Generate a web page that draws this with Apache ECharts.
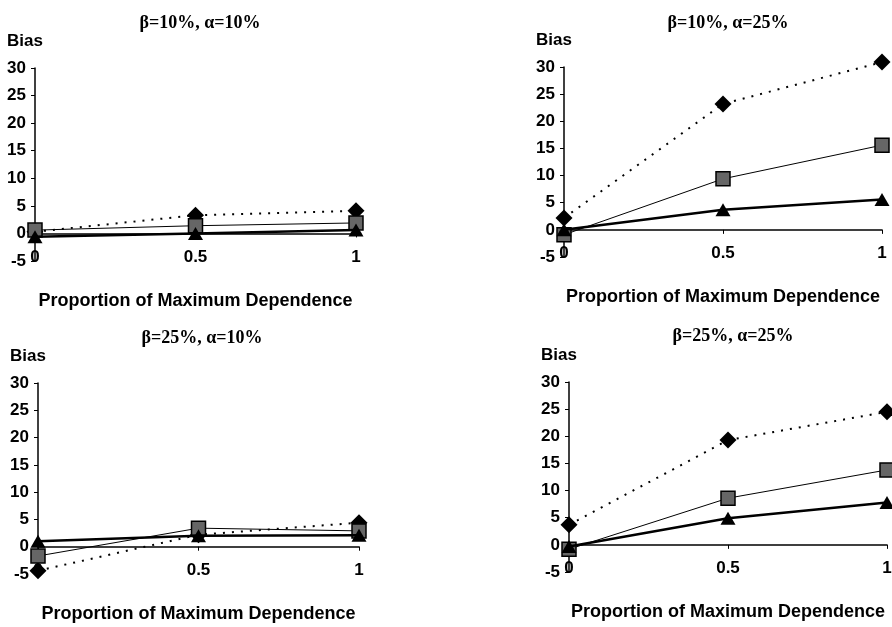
<!DOCTYPE html>
<html><head><meta charset="utf-8">
<script src="https://cdn.jsdelivr.net/npm/echarts@6/dist/echarts.min.js"></script>
<style>html,body{margin:0;padding:0;background:#fff}#c{width:892px;height:627px}</style>
</head><body><div id="c"></div>
<script>
const xValues = [0, 0.5, 1];
const xTickLabels = ['0', '0.5', '1'];
const yTickLabels = ['-5', '0', '5', '10', '15', '20', '25', '30'];
const panelTitles = ['β=10%, α=10%', 'β=10%, α=25%', 'β=25%, α=10%', 'β=25%, α=25%'];
const yName = 'Bias';
const xName = 'Proportion of Maximum Dependence';

// panel 1: beta 10%, alpha 10%
const diamondP1 = [0.3, 3.3, 4.1];
const squareP1 = [0.6, 1.4, 1.9];
const triangleP1 = [-0.6, 0.0, 0.6];
// panel 2: beta 10%, alpha 25%
const diamondP2 = [2.2, 23.2, 30.9];
const squareP2 = [-0.9, 9.4, 15.6];
const triangleP2 = [0.0, 3.7, 5.6];
// panel 3: beta 25%, alpha 10%
const diamondP3 = [-4.4, 2.2, 4.4];
const squareP3 = [-1.7, 3.4, 2.9];
const triangleP3 = [1.0, 2.0, 2.1];
// panel 4: beta 25%, alpha 25%
const diamondP4 = [3.7, 19.3, 24.5];
const squareP4 = [-0.8, 8.6, 13.8];
const triangleP4 = [-0.3, 4.9, 7.8];

const panels = [
  {d: diamondP1, s: squareP1, t: triangleP1},
  {d: diamondP2, s: squareP2, t: triangleP2},
  {d: diamondP3, s: squareP3, t: triangleP3},
  {d: diamondP4, s: squareP4, t: triangleP4}
];

const gridPos = [
  {left: 35, top: 68, width: 321, height: 193},
  {left: 564, top: 67, width: 318, height: 190},
  {left: 38, top: 383, width: 321, height: 191},
  {left: 569, top: 382, width: 318, height: 190}
];
const titlePos = [
  {x: 195, y: 9}, {x: 723, y: 9}, {x: 197, y: 324}, {x: 728, y: 322}
];

const sans = 'Liberation Sans, Arial, sans-serif';
const serif = 'Liberation Serif, Times New Roman, serif';

const option = {
  backgroundColor: '#fff',
  animation: false,
  title: panelTitles.map((t, i) => ({
    text: t, left: titlePos[i].x, top: titlePos[i].y, textAlign: 'center',
    textStyle: {fontFamily: serif, fontSize: 18, fontWeight: 'bold', color: '#000'}
  })),
  grid: gridPos.map(g => Object.assign({containLabel: false, outerBoundsMode: 'none'}, g)),
  xAxis: [],
  yAxis: [],
  series: []
};

panels.forEach((p, i) => {
  // axis line at zero
  option.xAxis.push({
    gridIndex: i, type: 'value', min: 0, max: 1, interval: 0.5, position: 'bottom',
    axisLine: {show: true, onZero: true, lineStyle: {color: '#000', width: 1.5}},
    axisTick: {show: true, length: 4, lineStyle: {color: '#000'}},
    axisLabel: {show: false}, splitLine: {show: false}
  });
  // labels at bottom
  option.xAxis.push({
    gridIndex: i, type: 'value', min: 0, max: 1, interval: 0.5, position: 'bottom',
    axisLine: {show: false, onZero: false}, axisTick: {show: false}, splitLine: {show: false},
    axisLabel: {
      show: true, margin: -4, verticalAlign: 'middle', color: '#000',
      fontFamily: sans, fontSize: 17, fontWeight: 'bold',
      formatter: v => xTickLabels[xValues.indexOf(v)] ?? String(v)
    },
    name: xName, nameLocation: 'middle', nameGap: 31,
    nameTextStyle: {fontFamily: sans, fontSize: 18, fontWeight: 'bold', color: '#000'}
  });
  option.yAxis.push({
    gridIndex: i, type: 'value', min: -5, max: 30, interval: 5,
    axisLine: {show: true, onZero: false, lineStyle: {color: '#000', width: 1.5}},
    axisTick: {show: true, length: 4, lineStyle: {color: '#000'}},
    splitLine: {show: false},
    axisLabel: {
      margin: 9, color: '#000', fontFamily: sans, fontSize: 17, fontWeight: 'bold',
      formatter: v => yTickLabels[Math.round((v + 5) / 5)] ?? String(v)
    },
    name: yName, nameLocation: 'end', nameGap: 18,
    nameTextStyle: {fontFamily: sans, fontSize: 17, fontWeight: 'bold', color: '#000', align: 'center', padding: [0, 20, 0, 0]}
  });
  const xi = i * 2;
  option.series.push({
    type: 'line', xAxisIndex: xi, yAxisIndex: i, clip: false,
    data: xValues.map((x, k) => [x, p.d[k]]),
    symbol: 'diamond', symbolSize: 17,
    itemStyle: {color: '#000'},
    lineStyle: {color: '#000', width: 2, type: [2, 7]}, z: 3
  });
  option.series.push({
    type: 'line', xAxisIndex: xi, yAxisIndex: i, clip: false,
    data: xValues.map((x, k) => [x, p.s[k]]),
    symbol: 'rect', symbolSize: 14,
    itemStyle: {color: '#666', borderColor: '#000', borderWidth: 1.5},
    lineStyle: {color: '#000', width: 1}, z: 4
  });
  option.series.push({
    type: 'line', xAxisIndex: xi, yAxisIndex: i, clip: false,
    data: xValues.map((x, k) => [x, p.t[k]]),
    symbol: 'triangle', symbolSize: [15, 13],
    itemStyle: {color: '#000'},
    lineStyle: {color: '#000', width: 2.5}, z: 5
  });
});

const chart = echarts.init(document.getElementById('c'), null, {renderer: 'canvas'});
chart.setOption(option);
</script>
</body></html>
